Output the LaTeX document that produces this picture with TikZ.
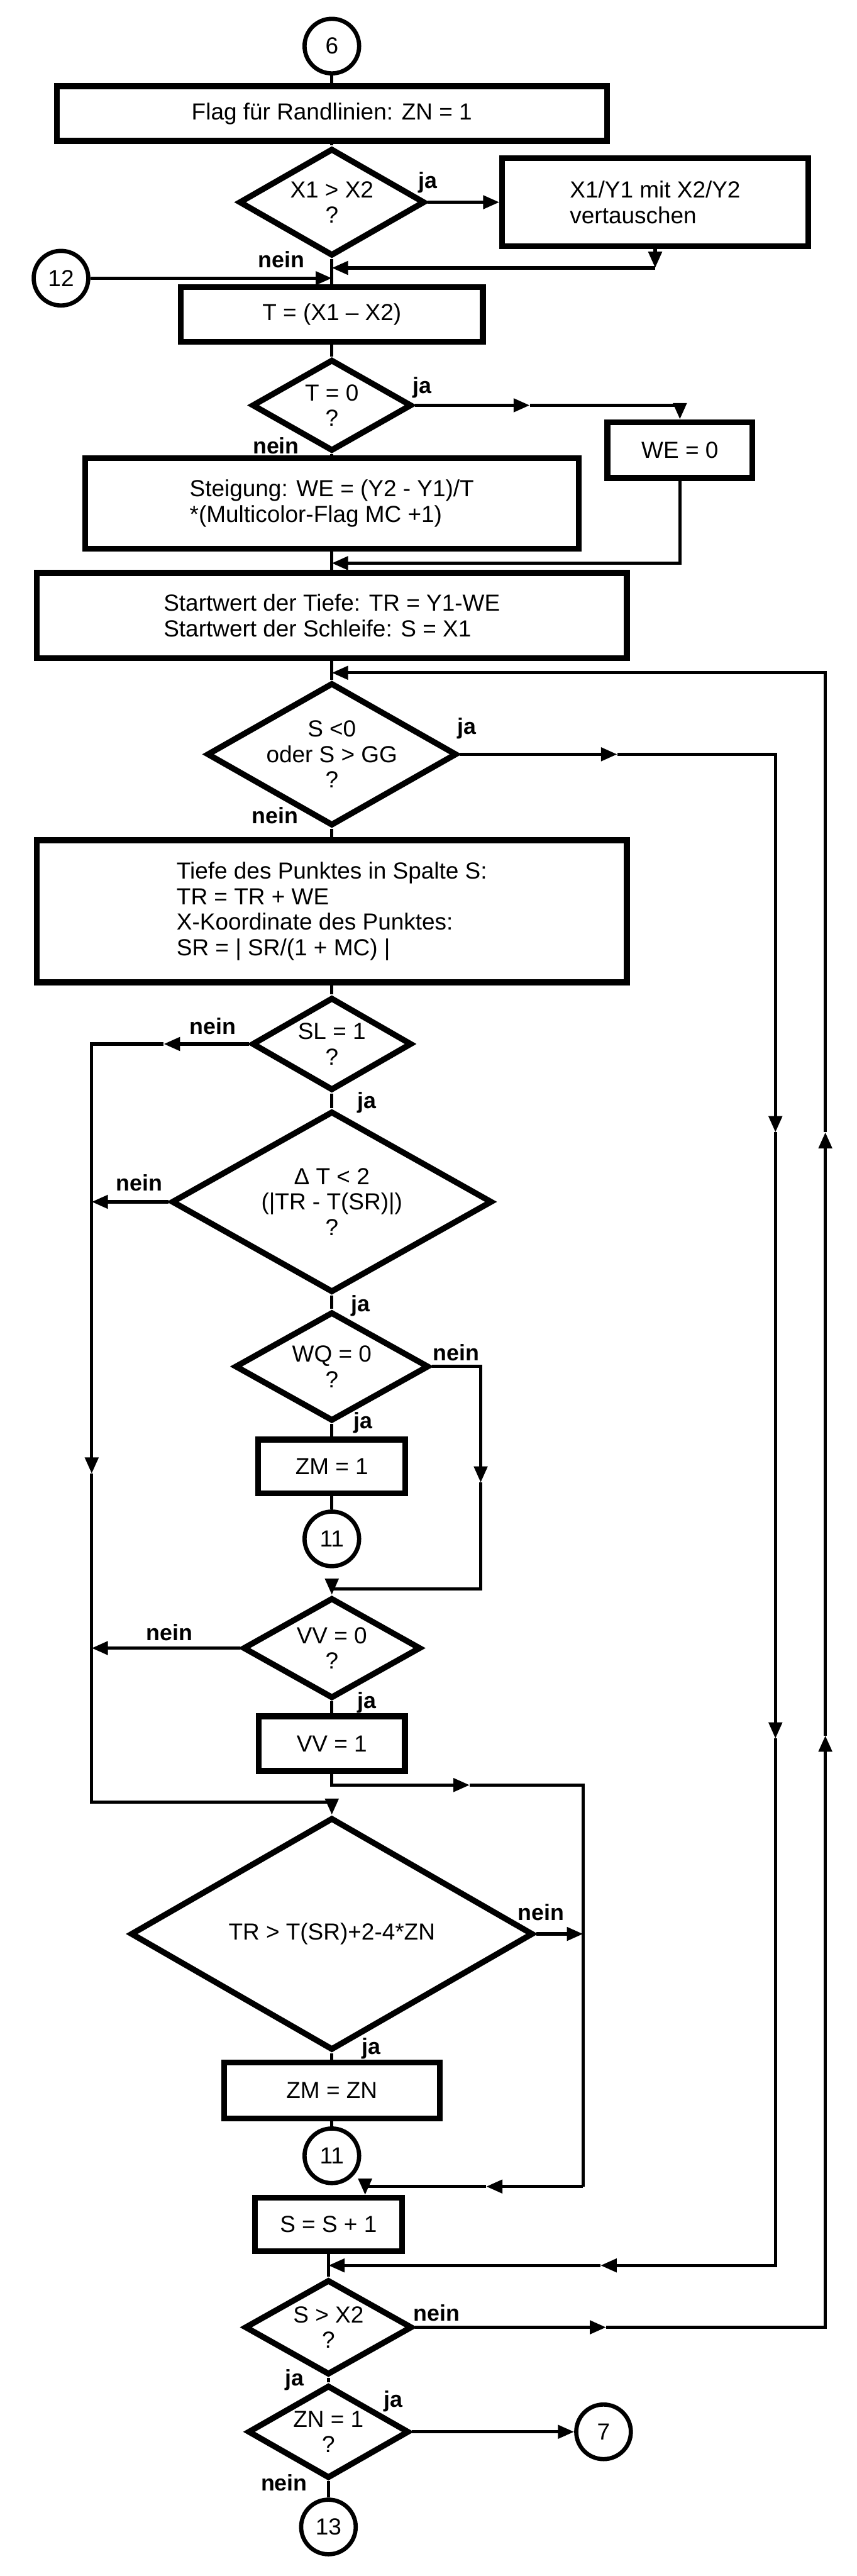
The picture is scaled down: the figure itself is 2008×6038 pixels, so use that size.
\documentclass[tikz,border=0pt]{standalone}
\usepackage{fontspec}
\setmainfont{Liberation Sans}
\usepackage{tikz}
\usetikzlibrary{arrows.meta,positioning,calc,shapes.geometric}

\begin{document}
\begin{tikzpicture}[x=0.1mm,y=-0.1mm,
    font=\fontsize{15.5}{17}\selectfont,
    box/.style 2 args={draw,line width=3.9pt,minimum width=#1,minimum height=#2,inner sep=0pt,align=center},
    dia/.style 2 args={draw,diamond,aspect=1.73,line width=3.9pt,minimum width=#1,minimum height=#2,inner sep=0pt,align=center},
    con/.style={draw,circle,line width=2.8pt,minimum size=12.8mm,inner sep=0pt},
    w/.style={line width=2.2pt},
    a/.style={w,-{Triangle[length=3.8mm,width=3.1mm]}},
    lab/.style={font=\fontsize{15}{17}\selectfont\bfseries,inner sep=0pt}]
    \useasboundingbox (0,0) rectangle (2008,6038);
    % Hauptspalte
    \node[con] (c6) at (778,108) {6};
    \node[box={129mm}{12.8mm}] (flag) at (778,266) {Flag für Randlinien: ZN = 1};
    \node[dia={43.6mm}{25.2mm}] (q1) at (778,474) {X1 > X2\\?};
    \node[box={71.7mm}{20.7mm},align=left] (swap) at (1536,474) {X1/Y1 mit X2/Y2\\vertauschen};
    \node[con] (c12) at (143,652) {12};
    \node[box={70.8mm}{12.8mm}] (tdif) at (778,737) {T = (X1 – X2)};
    \node[dia={37.5mm}{21.5mm}] (q2) at (778,950) {T = 0\\?};
    \node[box={34mm}{13.1mm}] (we0) at (1594,1055) {WE = 0};
    \node[box={115.7mm}{21.3mm},align=left] (steig) at (778,1180) {Steigung: WE = (Y2 - Y1)/T\\*(Multicolor-Flag MC +1)};
    \node[box={138.3mm}{20mm},align=left] (start) at (778,1443) {Startwert der Tiefe: TR = Y1-WE\\Startwert der Schleife: S = X1};
    \node[dia={58.6mm}{33.5mm}] (q3) at (778,1768) {S <0\\oder S > GG\\?};
    \node[box={138.3mm}{33.3mm},align=left] (tiefe) at (778,2136) {Tiefe des Punktes in Spalte S:\\TR = TR + WE\\X-Koordinate des Punktes:\\SR = | SR/(1 + MC) |};
    \node[dia={37.5mm}{21.8mm}] (q4) at (778,2447) {SL = 1\\?};
    \node[dia={75.2mm}{42.5mm}] (q5) at (778,2817) {Δ T < 2\\(|TR - T(SR)|)\\?};
    \node[dia={45.5mm}{25.6mm}] (q6) at (778,3203) {WQ = 0\\?};
    \node[box={34.5mm}{12.6mm}] (zm1) at (778,3437) {ZM = 1};
    \node[con] (c11a) at (778,3607) {11};
    \node[dia={41.7mm}{23.6mm}] (q7) at (778,3863) {VV = 0\\?};
    \node[box={34.3mm}{12.8mm}] (vv1) at (778,4087) {VV = 1};
    \node[dia={94.4mm}{54.5mm}] (q8) at (778,4533) {TR > T(SR)+2-4*ZN};
    \node[box={50.6mm}{13.1mm}] (zmzn) at (778,4900) {ZM = ZN};
    \node[con] (c11b) at (778,5053) {11};
    \node[box={34.5mm}{12.5mm}] (sinc) at (770,5214) {S = S + 1};
    \node[dia={39.3mm}{22.3mm}] (q9) at (770,5455) {S > X2\\?};
    \node[dia={37.8mm}{21.8mm}] (q10) at (770,5700) {ZN = 1\\?};
    \node[con] (c7) at (1415,5700) {7};
    \node[con] (c13) at (770,5923) {13};
    % ja / nein
    \node[lab] (ja1) at (1003,428) {ja};
    \node[lab] (ne1) at (660,609) {nein};
    \node[lab] (ja2) at (990,908) {ja};
    \node[lab] (ne2) at (647,1044) {nein};
    \node[lab] (ja3) at (1095,1708) {ja};
    \node[lab] (ne3) at (645,1912) {nein};
    \node[lab] (ne4) at (499,2405) {nein};
    \node[lab] (ja4) at (860,2584) {ja};
    \node[lab] (ne5) at (326,2773) {nein};
    \node[lab] (ja5) at (845,3061) {ja};
    \node[lab] (ne6) at (1069,3170) {nein};
    \node[lab] (ja6) at (851,3335) {ja};
    \node[lab] (ne7) at (397,3826) {nein};
    \node[lab] (ja7) at (860,3991) {ja};
    \node[lab] (ne8) at (1268,4482) {nein};
    \node[lab] (ja8) at (871,4801) {ja};
    \node[lab] (ne9) at (1024,5422) {nein};
    \node[lab] (ja9) at (691,5578) {ja};
    \node[lab] (ja10) at (922,5628) {ja};
    \node[lab] (ne10) at (666,5820) {nein};
    % Eckpunkte
    \coordinate (k1) at (1536,628);
    \coordinate (m2) at (1242,950);
    \coordinate (k2) at (778,1320);
    \coordinate (top) at (778,1577);
    \coordinate (m3) at (1447,1768);
    \coordinate (r1) at (1818,2654);
    \coordinate (r2) at (1818,4075);
    \coordinate (m4) at (1408,5310);
    \coordinate (m5) at (1421,5455);
    \coordinate (u1) at (1935,4068);
    \coordinate (u2) at (1935,2654);
    \coordinate (m6) at (384,2447);
    \coordinate (lft) at (215,3454);
    \coordinate (k3) at (778,4224);
    \coordinate (k4) at (1127,3475);
    \coordinate (k5) at (778,3724);
    \coordinate (m7) at (1101,4184);
    \coordinate (k7) at (1367,5125);
    \coordinate (m8) at (1140,5125);
    \coordinate (k8) at (856,5125);
    % Verbindungen
    \draw[w] (c6) -- (flag);
    \draw[w] (flag) -- (q1);
    \draw[a] (q1.east) -- (swap.west);
    \draw[a] (swap.south) -- (k1);
    \draw[a] (k1) -- (k1 -| q1.south);
    \draw[w] (q1) -- (tdif);
    \draw[a] (c12) -- (c12 -| tdif.north);
    \draw[w] (tdif) -- (q2);
    \draw[a] (q2.east) -- (m2);
    \draw[a] (m2) -| (we0.north);
    \draw[w] (q2) -- (steig);
    \draw[a] (we0.south) |- (k2);
    \draw[w] (steig) -- (start);
    \draw[w] (start) -- (q3);
    \draw[a] (q3.east) -- (m3);
    \draw[a] (m3) -| (r1);
    \draw[a] (r1) -- (r2);
    \draw[a] (r2) |- (m4);
    \draw[a] (m4) -- (m4 -| sinc.south);
    \draw[w] (q3) -- (tiefe);
    \draw[w] (tiefe) -- (q4);
    \draw[a] (q4.west) -- (m6);
    \draw[a] (m6) -| (lft);
    \draw[w] (lft) |- (k3);
    \draw[a] (k3) -- (q8.north);
    \draw[w] (q4) -- (q5);
    \draw[a] (q5.west) -- (q5.west -| lft);
    \draw[w] (q5) -- (q6);
    \draw[a] (q6.east) -| (k4);
    \draw[w] (k4) |- (k5);
    \draw[a] (k5) -- (q7.north);
    \draw[w] (q6) -- (zm1);
    \draw[w] (zm1) -- (c11a);
    \draw[a] (q7.west) -- (q7.west -| lft);
    \draw[w] (q7) -- (vv1);
    \draw[a] (vv1.south) |- (m7);
    \draw[w] (m7) -| (k7);
    \draw[a] (k7) -- (m8);
    \draw[a] (m8) -- (k8) -- (k8 |- sinc.north);
    \draw[a] (q8.east) -- (q8.east -| k7);
    \draw[w] (q8) -- (zmzn);
    \draw[w] (zmzn) -- (c11b);
    \draw[w] (sinc) -- (q9);
    \draw[a] (q9.east) -- (m5);
    \draw[a] (m5) -| (u1);
    \draw[a] (u1) -- (u2);
    \draw[a] (u2) |- (top);
    \draw[w] (q9) -- (q10);
    \draw[a] (q10) -- (c7);
    \draw[w] (q10) -- (c13);
\end{tikzpicture}
\end{document}
